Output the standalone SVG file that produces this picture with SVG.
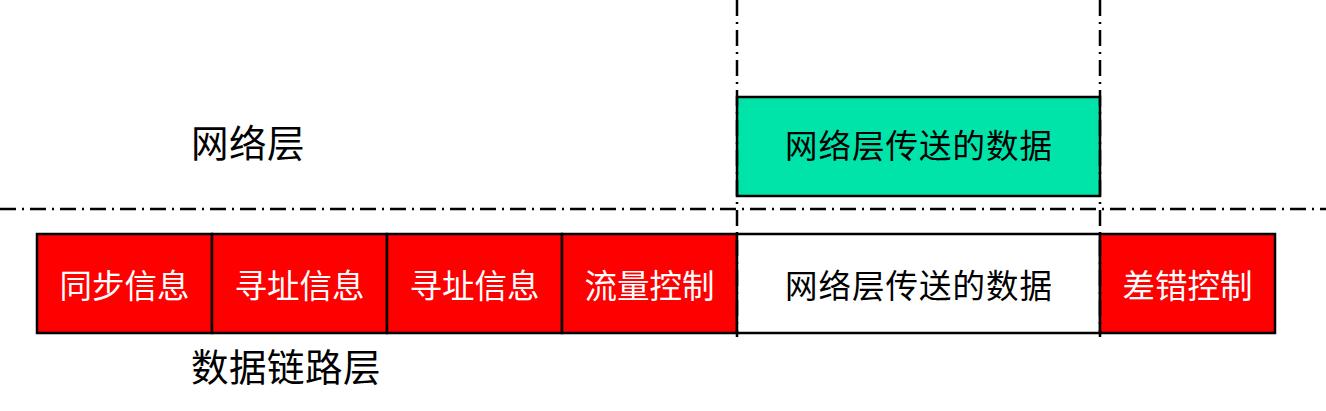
<svg xmlns="http://www.w3.org/2000/svg" width="1326" height="411" viewBox="0 0 1326 411">
  <style>
    .box { stroke: #000; stroke-width: 2.5; }
    .red { fill: #FF0000; }
    .green { fill: #00E4AA; }
    .white { fill: #FFFFFF; }
    .t { font-family: "Noto Sans CJK SC", "Noto Sans", sans-serif; font-size: 32.5px; text-anchor: middle; }
    .tw { fill: #FFFFFF; }
    .tb { fill: #000000; }
    .lbl { font-family: "Noto Sans CJK SC", "Noto Sans", sans-serif; font-size: 37.5px; fill: #000; letter-spacing: 0.5px; }
    .dd { stroke: #000; stroke-width: 2.5; stroke-dasharray: 16 6 2 6; fill: none; }
  </style>
  <rect width="1326" height="411" fill="#FFFFFF"/>

  <g id="label-network">
    <text class="lbl" x="191" y="157">网络层</text>
  </g>
  <g id="label-datalink">
    <text class="lbl" x="191" y="381">数据链路层</text>
  </g>

  <g id="net-data">
    <rect class="box green" x="737" y="97" width="363" height="99"/>
    <text class="t tb" x="919" y="158" letter-spacing="1">网络层传送的数据</text>
  </g>

  <g id="sync">
    <rect class="box red" x="37" y="234" width="175" height="99"/>
    <text class="t tw" x="124.5" y="298">同步信息</text>
  </g>
  <g id="addr1">
    <rect class="box red" x="212" y="234" width="175" height="99"/>
    <text class="t tw" x="299.5" y="298">寻址信息</text>
  </g>
  <g id="addr2">
    <rect class="box red" x="387" y="234" width="175" height="99"/>
    <text class="t tw" x="474.5" y="298">寻址信息</text>
  </g>
  <g id="flow">
    <rect class="box red" x="562" y="234" width="175" height="99"/>
    <text class="t tw" x="649.5" y="298">流量控制</text>
  </g>
  <g id="payload">
    <rect class="box white" x="737" y="234" width="363" height="99"/>
    <text class="t tb" x="919" y="298" letter-spacing="1">网络层传送的数据</text>
  </g>
  <g id="error">
    <rect class="box red" x="1100" y="234" width="175" height="99"/>
    <text class="t tw" x="1187.5" y="298">差错控制</text>
  </g>

  <g id="connectors">
    <line class="dd" x1="0" y1="209" x2="1326" y2="209"/>
    <line class="dd" x1="737" y1="0" x2="737" y2="337"/>
    <line class="dd" x1="1100" y1="0" x2="1100" y2="337"/>
  </g>
</svg>
